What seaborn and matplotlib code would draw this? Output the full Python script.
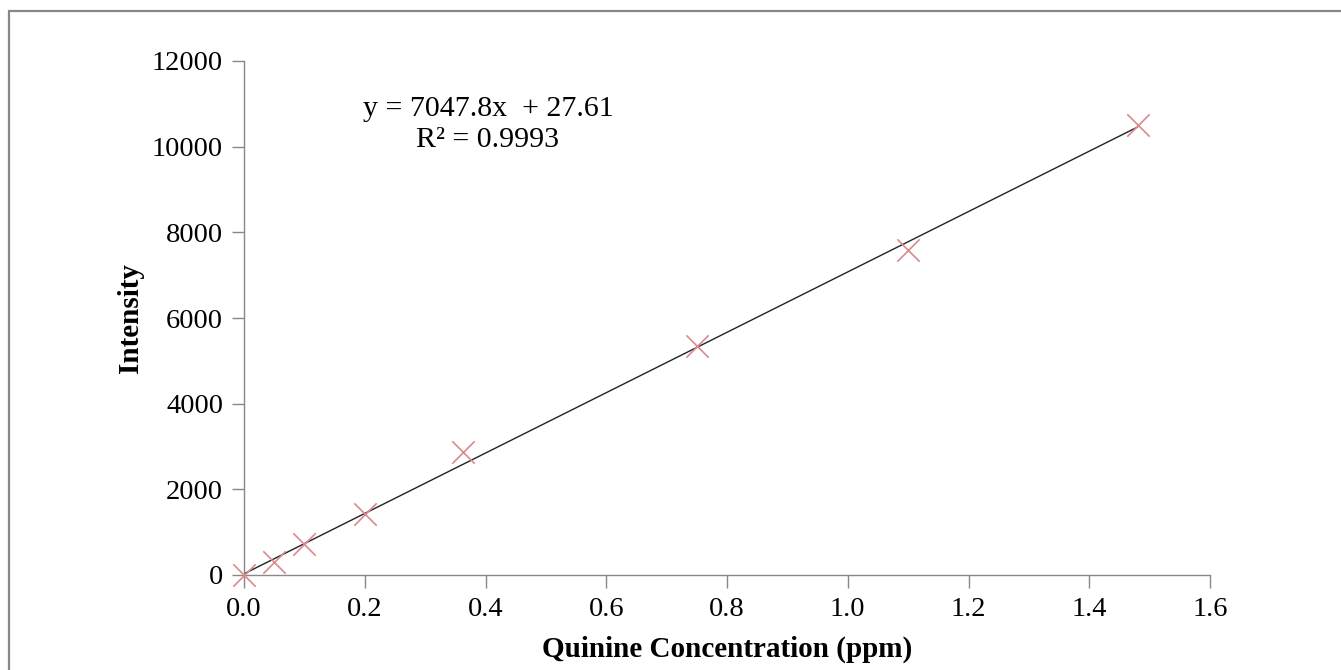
import numpy as np
import pandas as pd
import matplotlib
matplotlib.use("Agg")
import matplotlib.pyplot as plt
from matplotlib.patches import Rectangle
import seaborn as sns

# Data
concentration = [0.0, 0.05, 0.1, 0.2, 0.363, 0.75, 1.1, 1.48]
intensity = [0, 300, 720, 1430, 2870, 5350, 7590, 10510]
slope = 7047.8
intercept = 27.61
r_squared = 0.9993
x_ticks = [0.0, 0.2, 0.4, 0.6, 0.8, 1.0, 1.2, 1.4, 1.6]
y_ticks = [0, 2000, 4000, 6000, 8000, 10000, 12000]

sns.set_theme(style="white")
plt.rcParams['font.family'] = ['Liberation Serif', 'DejaVu Serif']

W, H = 1341, 670
fig = plt.figure(figsize=(W / 100, H / 100), dpi=100)
fig.patch.set_facecolor("white")
ax = fig.add_axes([244 / W, 1 - 575 / H, (1210 - 244) / W, (575 - 61) / H])

df = pd.DataFrame({"Concentration": concentration, "Intensity": intensity})

# trendline
xfit = np.array([min(concentration), max(concentration)])
yfit = slope * xfit + intercept
ax.plot(xfit, yfit, color="#222222", linewidth=1.0, zorder=2)

sns.scatterplot(data=df, x="Concentration", y="Intensity", marker="x",
                s=260, color="#d98a8e", linewidth=1.2, ax=ax, zorder=3,
                clip_on=False)

ax.set_xlim(0, 1.6)
ax.set_ylim(0, 12000)
ax.set_xticks(x_ticks)
ax.set_xticklabels([f"{v:.1f}" for v in x_ticks])
ax.set_yticks(y_ticks)
ax.set_yticklabels([str(v) for v in y_ticks])

for side in ["top", "right"]:
    ax.spines[side].set_visible(False)
for side in ["left", "bottom"]:
    ax.spines[side].set_visible(True)
    ax.spines[side].set_color("#888888")
    ax.spines[side].set_linewidth(1.0)

ax.tick_params(axis="both", which="major", direction="out", length=9,
               width=1.0, color="#888888", labelsize=20.5, labelcolor="black",
               left=True, bottom=True)
ax.tick_params(axis="x", pad=7)
ax.tick_params(axis="y", pad=6)
ax.grid(False)

ax.set_xlabel("Quinine Concentration (ppm)", fontsize=21, fontweight="bold",
              color="black", labelpad=10)
ax.set_ylabel("Intensity", fontsize=21, fontweight="bold", color="black",
              labelpad=6)

ax.text(0.404, 10520, f"y = {slope}x  + {intercept}\nR\u00b2 = {r_squared}",
        ha="center", va="center", fontsize=21.5, color="black",
        linespacing=1.25)

# outer chart border (only left and top visible in crop)
fig.patches.append(Rectangle((9 / W, -0.2), 2.0, (H - 11) / H + 0.2,
                             transform=fig.transFigure, fill=False,
                             edgecolor="#888888", linewidth=1.6))

fig.savefig("out.png", dpi=100, facecolor="white")
